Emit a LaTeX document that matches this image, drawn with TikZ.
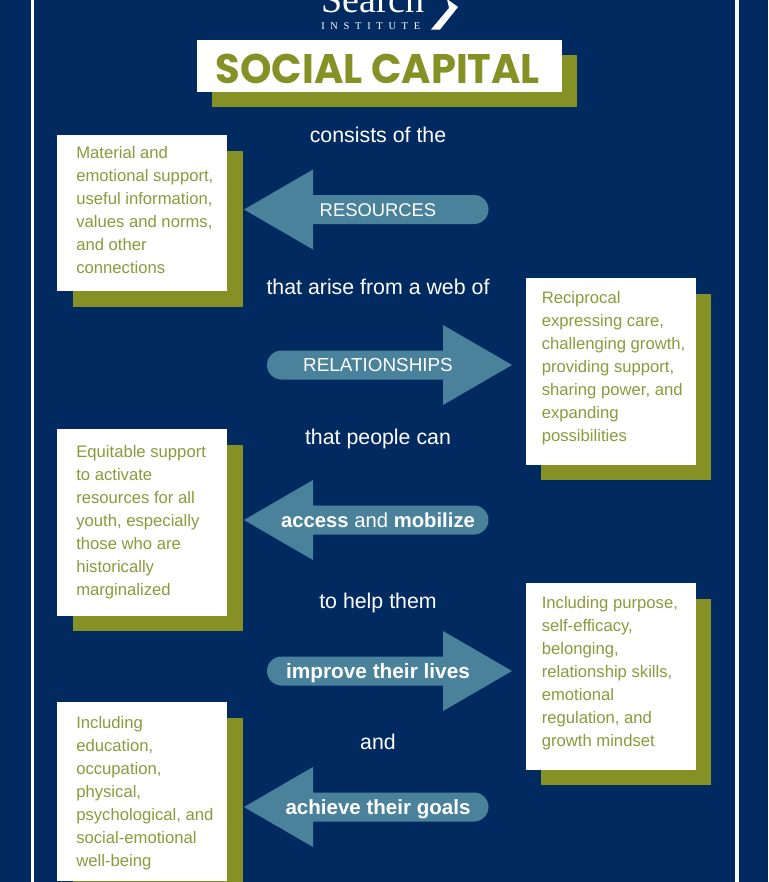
\documentclass[tikz,border=0pt]{standalone}
\usepackage{fontspec}
\setmainfont{Liberation Sans}
\newfontfamily\titlefont{Poppins}
\newfontfamily\logofont{Liberation Serif}
\newfontfamily\instfont[LetterSpace=55]{Liberation Serif}
\definecolor{navy}{HTML}{002A60}
\definecolor{olive}{HTML}{869125}
\definecolor{oltext}{HTML}{8A9B3C}
\definecolor{teal}{HTML}{4A829C}
\tikzset{
  cardtext/.style={text=oltext,anchor=north west,inner sep=0pt,align=left,font=\fontsize{12.5pt}{17.25pt}\selectfont},
  flow/.style={text=white,font=\fontsize{16pt}{18pt}\selectfont,inner sep=0pt,anchor=base},
  arrowtext/.style={text=white,inner sep=0pt,anchor=base}
}
\newcommand{\leftarr}[1]{%
  \fill[teal] (244,#1) -- (313,#1-40) -- (313,#1-14.5) -- (474,#1-14.5)
   arc[start angle=90,end angle=-90,x radius=14.5,y radius=-14.5] -- (313,#1+14.5) -- (313,#1+40) -- cycle;}
\newcommand{\rightarr}[1]{%
  \fill[teal] (512,#1) -- (443,#1-40) -- (443,#1-14.5) -- (281.5,#1-14.5)
   arc[start angle=90,end angle=270,x radius=14.5,y radius=-14.5] -- (443,#1+14.5) -- (443,#1+40) -- cycle;}
\newcommand{\cardbox}[6]{% name, x, y top, y bottom, text position, text
  \fill[olive] (#2+15.5,#3+15.5) rectangle (#2+170+15.5,#4+15.5);
  \fill[white] (#2,#3) rectangle (#2+170,#4);
  \node[cardtext] (#1) at (#5) {#6};}
\begin{document}
\begin{tikzpicture}[x=0.75pt,y=-0.75pt]
\useasboundingbox (0,0) rectangle (768,882);
\clip (0,0) rectangle (768,882);
\fill[navy] (0,0) rectangle (768,882);
\fill[white] (30.5,0) rectangle (34,882);
\fill[white] (735,0) rectangle (738.5,882);
% logo
\node[text=white,inner sep=0pt,anchor=base west,font=\logofont\fontsize{28.5pt}{30pt}\selectfont] (logo) at (321,12.5) {Search};
\node[text=white,inner sep=0pt,anchor=base west,font=\instfont\fontsize{7.8pt}{8pt}\selectfont] (inst) at (321,29) {INSTITUTE};
\fill[white] (447,-1) -- (458,7) -- (440,29.5) -- (431,29.5) -- (449,8) -- cycle;
% title
\fill[olive] (212,55) rectangle (577,107);
\fill[white] (197,40) rectangle (562,92);
\node[text=olive,inner sep=0pt,anchor=base,xscale=0.967,font=\titlefont\bfseries\fontsize{31pt}{34pt}\selectfont] (title) at (378,83.5) {SOCIAL CAPITAL};
% cards
\cardbox{c1}{57}{135}{291}{76,146.5}{Material and\\emotional support,\\useful information,\\values and norms,\\and other\\connections}
\cardbox{c2}{525.5}{278}{464.5}{541.5,291}{Reciprocal\\expressing care,\\challenging growth,\\providing support,\\sharing power, and\\expanding\\possibilities}
\cardbox{c3}{57}{429}{615.5}{76,445.5}{Equitable support\\to activate\\resources for all\\youth, especially\\those who are\\historically\\marginalized}
\cardbox{c4}{525.5}{583}{769.5}{541.5,596.5}{Including purpose,\\self-efficacy,\\belonging,\\relationship skills,\\emotional\\regulation, and\\growth mindset}
\cardbox{c5}{57}{702}{881}{76,716}{Including\\education,\\occupation,\\physical,\\psychological, and\\social-emotional\\well-being}
% arrows
\leftarr{209.5}
\rightarr{365}
\leftarr{520}
\rightarr{671}
\leftarr{807}
\node[arrowtext,font=\fontsize{13.8pt}{18pt}\selectfont] (a1) at (378,216) {RESOURCES};
\node[arrowtext,font=\fontsize{14.15pt}{18pt}\selectfont] (a2) at (378,371.5) {RELATIONSHIPS};
\node[arrowtext,font=\fontsize{15.2pt}{18pt}\selectfont] (a3) at (378,527) {\textbf{access} and \textbf{mobilize}};
\node[arrowtext,font=\fontsize{15.6pt}{18pt}\selectfont] (a4) at (378,678.5) {\textbf{improve their lives}};
\node[arrowtext,font=\fontsize{15.4pt}{18pt}\selectfont] (a5) at (378,814) {\textbf{achieve their goals}};
% flow text
\node[flow] (f1) at (378,142.5) {consists of the};
\node[flow] (f2) at (378,294.5) {that arise from a web of};
\node[flow] (f3) at (378,444) {that people can};
\node[flow] (f4) at (378,608) {to help them};
\node[flow] (f5) at (378,749) {and};
\end{tikzpicture}
\end{document}
